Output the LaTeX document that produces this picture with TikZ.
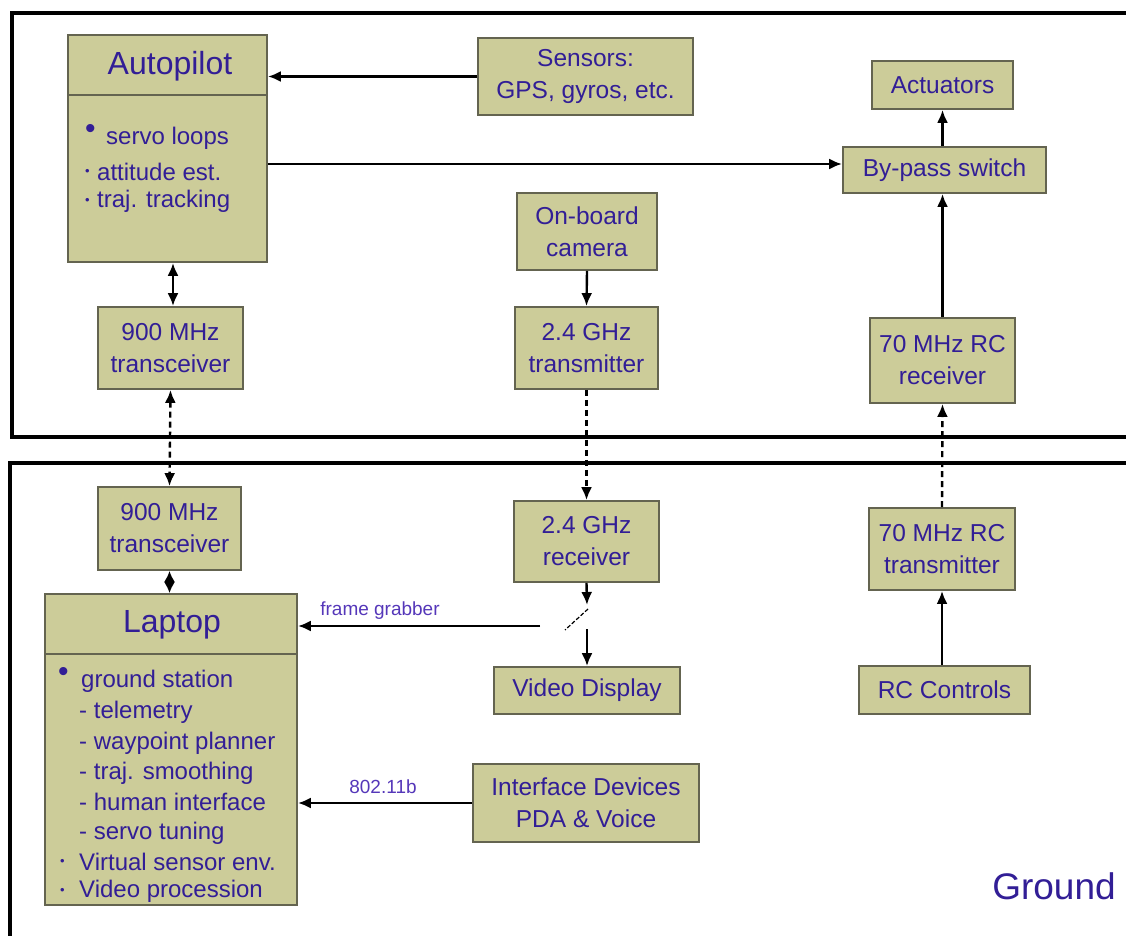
\documentclass[tikz,border=0pt]{standalone}
\usepackage{fontspec}
\setmainfont{Liberation Sans}
\usetikzlibrary{arrows.meta,calc}
\definecolor{boxfill}{RGB}{204,204,153}
\definecolor{boxline}{RGB}{100,100,80}
\definecolor{txt}{RGB}{50,30,150}
\definecolor{lbl}{RGB}{85,55,185}
\tikzset{
  box/.style={draw=boxline, fill=boxfill, line width=1.8pt, inner sep=0pt, align=center,
    text=txt, font=\fontsize{24.5}{32}\selectfont},
  divline/.style={draw=boxline, line width=1.8pt},
  boxtitle/.style={text=txt, font=\fontsize{32}{32}\selectfont, inner sep=0pt},
  bodytxt/.style={text=txt, font=\fontsize{24}{24}\selectfont, inner sep=0pt, anchor=west},
  conn/.style={line width=2.4pt, -{Latex[length=13pt,width=11pt]}},
  biconn/.style={line width=2.4pt, {Latex[length=13pt,width=11pt]}-{Latex[length=13pt,width=11pt]}},
  radio/.style={dash pattern=on 6pt off 4pt},
  frame/.style={line width=4pt, draw=black},
  edgelbl/.style={text=lbl, font=\fontsize{19}{19}\selectfont, inner sep=0pt},
}
\begin{document}
\begin{tikzpicture}[x=1pt,y=-1pt]
\useasboundingbox (0,0) rectangle (1126,936);
\clip (0,0) rectangle (1126,936);
% frames
\draw[frame] (1140,13) -- (12,13) -- (12,437) -- (1140,437);
\draw[frame] (1140,463) -- (10,463) -- (10,950);
% air boxes
\node[box, minimum width=199pt, minimum height=227pt] (ap) at (167.5,148.5) {};
\coordinate (apdiv) at (0,95);
\draw[divline] (ap.west |- apdiv) -- (ap.east |- apdiv);
\node[boxtitle] (aptitle) at (170,66) {Autopilot};
\node[bodytxt, font=\fontsize{30}{30}\selectfont] (apb1) at (85,131) {\textbullet};
\node[bodytxt] (apl1) at (106,138) {servo loops};
\node[bodytxt, font=\fontsize{13}{13}\selectfont] (apb2) at (85,172) {\textbullet};
\node[bodytxt] (apl2) at (97,172) {attitude est.};
\node[bodytxt, font=\fontsize{13}{13}\selectfont] (apb3) at (85,201) {\textbullet};
\node[bodytxt] (apl3) at (97,201) {traj. tracking};
\node[box, minimum width=215pt, minimum height=77pt] (sens) at (585.5,76.5) {Sensors:\\GPS, gyros, etc.};
\node[box, minimum width=141pt, minimum height=48pt] (act) at (942.5,85) {Actuators};
\node[box, minimum width=203pt, minimum height=46pt] (bp) at (944.5,170) {By-pass switch};
\node[box, minimum width=140pt, minimum height=77pt] (cam) at (587,231.5) {On-board\\camera};
\node[box, minimum width=145pt, minimum height=82pt] (ta) at (170.5,348) {900 MHz\\transceiver};
\node[box, minimum width=143pt, minimum height=82pt] (tx24) at (586.5,348) {2.4 GHz\\transmitter};
\node[box, minimum width=145pt, minimum height=85pt] (rx70) at (942.5,360.5) {70 MHz RC\\receiver};
% ground boxes
\node[box, minimum width=143pt, minimum height=83pt] (tg) at (169.5,528.5) {900 MHz\\transceiver};
\node[box, minimum width=145pt, minimum height=81pt] (rx24) at (586.5,541.5) {2.4 GHz\\receiver};
\node[box, minimum width=146pt, minimum height=82pt] (tx70) at (942,549) {70 MHz RC\\transmitter};
\node[box, minimum width=252pt, minimum height=311pt] (lap) at (171,749.5) {};
\coordinate (lapdiv) at (0,654);
\draw[divline] (lap.west |- lapdiv) -- (lap.east |- lapdiv);
\node[boxtitle] (laptitle) at (172,625) {Laptop};
\node[bodytxt, font=\fontsize{30}{30}\selectfont] (lb1) at (58,674) {\textbullet};
\node[bodytxt] (ll1) at (81,681) {ground station};
\node[bodytxt] (ll2) at (79,712) {- telemetry};
\node[bodytxt] (ll3) at (79,743) {- waypoint planner};
\node[bodytxt] (ll4) at (79,773) {- traj. smoothing};
\node[bodytxt] (ll5) at (79,802) {- human interface};
\node[bodytxt] (ll6) at (79,833) {- servo tuning};
\node[bodytxt, font=\fontsize{13}{13}\selectfont] (lb7) at (60,862) {\textbullet};
\node[bodytxt] (ll7) at (79,862) {Virtual sensor env.};
\node[bodytxt, font=\fontsize{13}{13}\selectfont] (lb8) at (60,891) {\textbullet};
\node[bodytxt] (ll8) at (79,891) {Video procession};
\node[box, minimum width=186pt, minimum height=47pt] (vd) at (587,690.5) {Video Display};
\node[box, minimum width=171pt, minimum height=48pt] (rcc) at (944.5,690) {RC Controls};
\node[box, minimum width=226pt, minimum height=78pt] (ifd) at (586,803) {Interface Devices\\PDA \& Voice};
\node[text=txt, font=\fontsize{37}{37}\selectfont, inner sep=0pt] (ground) at (1054,886) {Ground};
% connectors
\coordinate (apx) at (173,0);
\draw[conn] (sens.west) -- (sens.west -| ap.east);
\coordinate (bpin) at ([yshift=6pt]bp.west);
\draw[conn] (bpin -| ap.east) -- (bpin);
\draw[conn] (bp.north -| act.south) -- (act.south);
\draw[conn] (rx70.north) -- (rx70.north |- bp.south);
\draw[biconn] (ta.north -| apx) -- (ap.south -| apx);
\draw[biconn, radio] (ta.south) -- (tg.north);
\draw[conn] (cam.south) -- (tx24.north);
\draw[conn, radio] (tx24.south) -- (rx24.north);
\draw[conn, radio] (tx70.north) -- (rx70.south);
\draw[conn] (rcc.north -| tx70.south) -- (tx70.south);
\draw[line width=2.4pt, {Latex[length=11pt,width=11pt]}-{Latex[length=11pt,width=11pt]}] (tg.south) -- (tg.south |- lap.north);
\coordinate (sw1) at (587,605);
\coordinate (swa) at (588,609);
\coordinate (swb) at (565,630);
\coordinate (sw2) at (587,629);
\coordinate (fg) at (540,626);
\draw[conn] (rx24.south) -- (sw1);
\draw[line width=1.2pt, dash pattern=on 4pt off 2pt] (swa) -- (swb);
\draw[conn] (sw2) -- (vd.north);
\draw[conn] (fg) -- (fg -| lap.east);
\node[edgelbl] (fglbl) at (380,611) {frame grabber};
\draw[conn] (ifd.west) -- (ifd.west -| lap.east);
\node[edgelbl] (wifilbl) at (383,787) {802.11b};
\end{tikzpicture}
\end{document}
